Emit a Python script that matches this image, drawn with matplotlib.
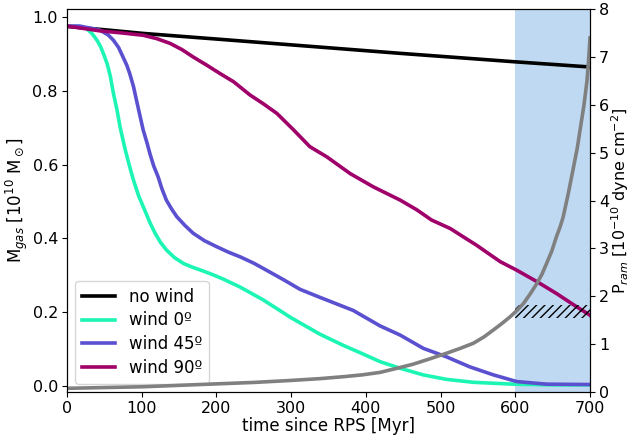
import matplotlib
matplotlib.use("Agg")
import matplotlib.pyplot as plt

# data
t_nowind = [0, 50, 102, 205, 300, 446, 600, 700]
m_nowind = [0.975, 0.966, 0.956, 0.940, 0.925, 0.902, 0.879, 0.865]

t_w0 = [0, 17, 26, 33, 40, 45, 49, 54, 58, 62, 67, 71, 78, 84, 89, 96, 104, 111, 118, 125, 133, 144, 156, 168, 182, 195, 209, 232, 263, 300, 339, 370, 396, 419, 446, 477, 508, 544, 597, 650, 700]
m_w0 = [0.976, 0.974, 0.969, 0.957, 0.938, 0.920, 0.900, 0.872, 0.840, 0.795, 0.748, 0.703, 0.640, 0.594, 0.558, 0.515, 0.477, 0.443, 0.414, 0.390, 0.369, 0.348, 0.332, 0.322, 0.312, 0.302, 0.290, 0.268, 0.233, 0.185, 0.140, 0.110, 0.087, 0.066, 0.048, 0.030, 0.018, 0.010, 0.005, 0.003, 0.003]

t_w45 = [0, 17, 44, 55, 62, 69, 75, 80, 84, 89, 93, 98, 102, 107, 111, 116, 122, 127, 133, 140, 147, 158, 169, 184, 200, 216, 232, 250, 267, 290, 312, 339, 383, 419, 446, 477, 508, 539, 571, 602, 642, 700]
m_w45 = [0.976, 0.976, 0.965, 0.952, 0.938, 0.918, 0.892, 0.870, 0.847, 0.812, 0.775, 0.730, 0.694, 0.660, 0.630, 0.597, 0.567, 0.535, 0.504, 0.480, 0.459, 0.435, 0.414, 0.394, 0.378, 0.363, 0.350, 0.333, 0.314, 0.288, 0.262, 0.240, 0.205, 0.163, 0.138, 0.102, 0.079, 0.052, 0.030, 0.012, 0.005, 0.004]

t_w90 = [0, 44, 75, 102, 120, 138, 154, 169, 187, 205, 223, 245, 263, 281, 303, 325, 348, 379, 410, 446, 468, 488, 513, 530, 548, 565, 580, 602, 629, 655, 682, 700]
m_w90 = [0.976, 0.963, 0.957, 0.951, 0.942, 0.929, 0.912, 0.892, 0.870, 0.847, 0.825, 0.789, 0.765, 0.739, 0.695, 0.649, 0.621, 0.576, 0.540, 0.504, 0.478, 0.450, 0.427, 0.405, 0.382, 0.358, 0.337, 0.314, 0.283, 0.251, 0.215, 0.192]

t_pram = [0, 102, 200, 250, 298, 339, 370, 396, 419, 440, 463, 485, 508, 526, 544, 558, 571, 582, 593, 602, 611, 620, 629, 636, 642, 649, 655, 660, 664, 671, 678, 683, 687, 692, 696, 698, 700]
p_pram = [0.077, 0.11, 0.17, 0.20, 0.24, 0.28, 0.32, 0.36, 0.41, 0.49, 0.58, 0.69, 0.81, 0.91, 1.02, 1.15, 1.30, 1.43, 1.57, 1.70, 1.85, 2.05, 2.27, 2.47, 2.69, 2.95, 3.24, 3.45, 3.65, 4.15, 4.70, 5.10, 5.50, 6.00, 6.50, 6.90, 7.40]

labels = ["no wind", "wind 0º", "wind 45º", "wind 90º"]
colors = ["black", "#1cf5b4", "#5a50d0", "#a0006a"]

span = (600, 700)
hatch_box = (1.54, 1.82)

fig = plt.figure(figsize=(6.32, 4.38), dpi=100)
ax = fig.add_axes([0.106, 0.105, 0.8275, 0.874])
ax2 = ax.twinx()

ax.axvspan(span[0], span[1], color="#bfd9f2", lw=0, zorder=0)

lw = 2.6
ax.plot(t_nowind, m_nowind, color=colors[0], lw=lw, label=labels[0])
ax.plot(t_w0, m_w0, color=colors[1], lw=lw, label=labels[1])
ax.plot(t_w45, m_w45, color=colors[2], lw=lw, label=labels[2])
ax.plot(t_w90, m_w90, color=colors[3], lw=lw, label=labels[3])

ax2.plot(t_pram, p_pram, color="gray", lw=lw)
ax2.fill_between(span, hatch_box[0], hatch_box[1], facecolor="none", edgecolor="black", hatch="////", lw=0)

ax.set_xlim(0, 700)
ax.set_ylim(-0.0163, 1.0217)
ax2.set_ylim(0, 8)
ax.set_yticks([0.0, 0.2, 0.4, 0.6, 0.8, 1.0])
ax.set_yticklabels(["0.0", "0.2", "0.4", "0.6", "0.8", "1.0"])
ax2.set_yticks(range(0, 9))

ax.tick_params(labelsize=11.5, pad=3)
ax2.tick_params(labelsize=11.5, pad=3)
ax.set_xlabel("time since RPS [Myr]", fontsize=12, labelpad=1)
ax.set_ylabel(r"M$_{gas}$ [10$^{10}$ M$_\odot$]", fontsize=12, labelpad=2)
ax2.set_ylabel(r"P$_{ram}$ [10$^{-10}$ dyne cm$^{-2}$]", fontsize=11.5, labelpad=0)

ax.legend(loc="lower left", fontsize=12, labelspacing=0.35)

fig.savefig("out.png", dpi=100)
